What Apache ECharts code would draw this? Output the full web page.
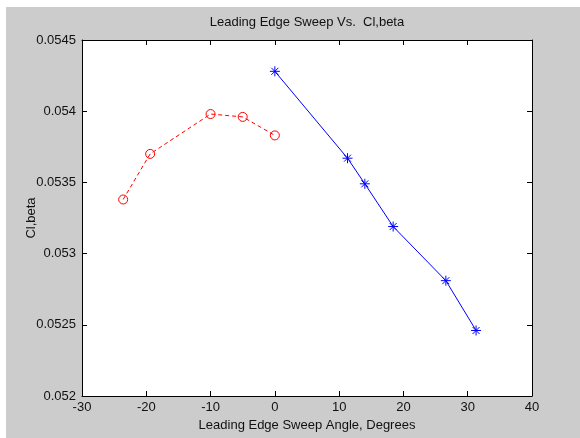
<!DOCTYPE html>
<html>
<head>
<meta charset="utf-8">
<script src="https://cdn.jsdelivr.net/npm/echarts@6/dist/echarts.min.js"></script>
<style>
  html, body { margin: 0; padding: 0; background: #fff; }
  #chart { width: 580px; height: 438px; }
</style>
</head>
<body>
<div id="chart"></div>
<script>
// Sweep angles (degrees) and Cl,beta for the two configurations
const circleSweep = [-23.6, -19.4, -10, -5, 0];
const circleClBeta = [0.05338, 0.05370, 0.05398, 0.05396, 0.05383];

const starSweep = [0, 11.3, 14.0, 18.4, 26.6, 31.3];
const starClBeta = [0.05428, 0.05367, 0.05349, 0.05319, 0.05281, 0.05246];

// Axis ranges
const xRange = [-30, 40, 10];
const yRange = [0.052, 0.0545, 0.0005];

const titleText = 'Leading Edge Sweep Vs.  Cl,beta';
const xName = 'Leading Edge Sweep Angle, Degrees';
const yName = 'Cl,beta';

const font = 'Liberation Sans, Arial, Helvetica, sans-serif';
const textColor = '#111';

const pairs = (xs, ys) => xs.map((x, i) => [x, ys[i]]);

const chart = echarts.init(document.getElementById('chart'), null, { renderer: 'canvas' });

const gridBox = { left: 82, top: 40, width: 450, height: 356 };

const axisCommon = {
  type: 'value',
  splitLine: { show: false },
  axisLine: { show: true, onZero: false, lineStyle: { color: '#000', width: 1 } },
  axisTick: { show: true, inside: true, length: 5, lineStyle: { color: '#000', width: 1 } },
};

const asterisk = 'path://M5 0 L5 10 M0 5 L10 5 M1.5 1.5 L8.5 8.5 M1.5 8.5 L8.5 1.5';

chart.setOption({
  animation: false,
  backgroundColor: '#fff',
  graphic: [{
    type: 'rect',
    z: -10,
    silent: true,
    shape: { x: 6, y: 7, width: 574, height: 431 },
    style: { fill: '#cccccc' }
  }],
  title: {
    text: titleText,
    left: gridBox.left + gridBox.width / 2,
    textAlign: 'center',
    top: 16,
    padding: 0,
    textStyle: { fontFamily: font, fontSize: 13, fontWeight: 'normal', color: textColor }
  },
  grid: Object.assign({ show: true, backgroundColor: '#fff', borderWidth: 0 }, gridBox),
  xAxis: [
    Object.assign({}, axisCommon, {
      position: 'bottom',
      min: xRange[0], max: xRange[1], interval: xRange[2],
      name: xName,
      nameLocation: 'middle',
      nameGap: 23,
      nameMoveOverlap: false,
      nameTextStyle: { fontFamily: font, fontSize: 13, color: textColor },
      axisLabel: { fontFamily: font, fontSize: 13, color: textColor, margin: 5 }
    }),
    Object.assign({}, axisCommon, {
      position: 'top',
      min: xRange[0], max: xRange[1], interval: xRange[2],
      axisLabel: { show: false }
    })
  ],
  yAxis: [
    Object.assign({}, axisCommon, {
      position: 'left',
      min: yRange[0], max: yRange[1], interval: yRange[2],
      name: yName,
      nameLocation: 'middle',
      nameGap: 44,
      nameMoveOverlap: false,
      nameTextStyle: { fontFamily: font, fontSize: 13, color: textColor },
      axisLabel: {
        fontFamily: font, fontSize: 13, color: textColor, margin: 6,
        formatter: v => String(+v.toFixed(5))
      }
    }),
    Object.assign({}, axisCommon, {
      position: 'right',
      min: yRange[0], max: yRange[1], interval: yRange[2],
      axisLabel: { show: false }
    })
  ],
  series: [
    {
      type: 'line',
      data: pairs(circleSweep, circleClBeta),
      xAxisIndex: 0, yAxisIndex: 0,
      symbol: 'circle',
      symbolSize: 9,
      showAllSymbol: true,
      lineStyle: { color: '#ff0000', width: 1, type: [4, 3] },
      itemStyle: { color: 'rgba(0,0,0,0)', borderColor: '#ff0000', borderWidth: 1 },
      emphasis: { disabled: true },
      silent: true
    },
    {
      type: 'line',
      data: pairs(starSweep, starClBeta),
      xAxisIndex: 0, yAxisIndex: 0,
      symbol: asterisk,
      symbolSize: 10,
      showAllSymbol: true,
      lineStyle: { color: '#0000ff', width: 1 },
      itemStyle: { color: 'rgba(0,0,0,0)', borderColor: '#0000ff', borderWidth: 1 },
      emphasis: { disabled: true },
      silent: true
    }
  ]
});
</script>
</body>
</html>
